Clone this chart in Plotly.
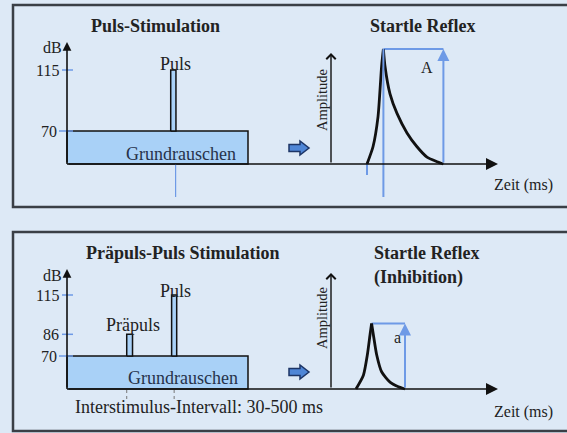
import plotly.graph_objects as go

W, H = 567, 433

# ---------------- data ----------------
DB_TICKS_TOP = [70, 115]
DB_TICKS_BOTTOM = [70, 86, 115]
NOISE_DB = 70
PULSE_DB = 115
PREPULSE_DB = 86
BASE_DB = 45.7          # level at which the time axis crosses the dB axis

NOISE_T = [0, 100]      # schematic stimulus time
PULSE_T_TOP = [57.3, 60.2]
PULSE_T_BOTTOM = [57.8, 60.6]
PREPULSE_T = [33.0, 36.2]

# startle response curves (time in ms, amplitude in % of A)
RISE_T_TOP = [18, 21, 23.5, 25.3, 26.2]
RISE_A_TOP = [0, 15, 41, 85, 100]
DECAY_T_TOP = [26.2, 27, 29.5, 33, 38, 43, 48, 53, 56.2]
DECAY_A_TOP = [100, 85, 61, 44, 27, 15, 6, 2, 0]

RISE_T_BOTTOM = [12.5, 16.2, 18.2, 19.5, 20.3]
RISE_A_BOTTOM = [0, 12, 30, 47, 57]
DECAY_T_BOTTOM = [20.3, 21.2, 22.8, 25.3, 29.5, 33.7, 37]
DECAY_A_BOTTOM = [57, 47, 30, 15, 6, 2, 0]

A_PEAK, A_T_PEAK, A_T_END, A_T_ONSET = 100, 26.2, 56.2, 18
a_PEAK, a_T_PEAK, a_T_END = 57, 20.3, 37

# ---------------- style ----------------
BG = "#dde9f6"
BORDER = "#3a3f46"
BLUE = "#6e9ae6"
BOXFILL = "#a9d1f7"
TXT = "#222222"
SERIF = "Liberation Serif, Times New Roman, serif"


def fx(px):
    return px / W


def fy(py):
    return 1 - py / H


def haxis(px0, px1, px_ref, val_ref, ppu, anchor):
    v = lambda p: val_ref + (p - px_ref) / ppu
    return dict(domain=[fx(px0), fx(px1)], range=[v(px0), v(px1)], visible=False,
                anchor=anchor, fixedrange=True)


def vaxis(py_bot, py_top, py_ref, val_ref, ppu, anchor):
    v = lambda p: val_ref + (py_ref - p) / ppu
    return dict(domain=[fy(py_bot), fy(py_top)], range=[v(py_bot), v(py_top)], visible=False,
                anchor=anchor, fixedrange=True)


DB_PPU = 61 / 45.0      # px per dB
AMP_PPU = 1.15          # px per % amplitude
T_PPU = 1.81            # px per stimulus time unit
MS_PPU = 2.0            # px per ms

fig = go.Figure()


def box_trace(t0, t1, lo, hi, xa, ya):
    fig.add_trace(go.Scatter(x=[t0, t0, t1, t1, t0], y=[lo, hi, hi, lo, lo], mode="lines",
                             fill="toself", fillcolor=BOXFILL,
                             line=dict(color="#111111", width=1.5),
                             xaxis=xa, yaxis=ya, hoverinfo="skip", showlegend=False))


def curve(ts, vs, xa, ya):
    fig.add_trace(go.Scatter(x=ts, y=vs, mode="lines",
                             line=dict(color="#111111", width=2.8, shape="spline", smoothing=0.6),
                             xaxis=xa, yaxis=ya, hoverinfo="skip", showlegend=False))


def blue_line(ts, vs, xa, ya, width=2):
    fig.add_trace(go.Scatter(x=ts, y=vs, mode="lines", line=dict(color=BLUE, width=width),
                             xaxis=xa, yaxis=ya, hoverinfo="skip", showlegend=False))


# ---- panel 1 stimulus (x / y) ----
box_trace(NOISE_T[0], NOISE_T[1], BASE_DB, NOISE_DB, "x", "y")
box_trace(PULSE_T_TOP[0], PULSE_T_TOP[1], NOISE_DB, PULSE_DB, "x", "y")
# ---- panel 2 stimulus (x3 / y3) ----
box_trace(NOISE_T[0], NOISE_T[1], BASE_DB, NOISE_DB, "x3", "y3")
box_trace(PREPULSE_T[0], PREPULSE_T[1], NOISE_DB, PREPULSE_DB, "x3", "y3")
box_trace(PULSE_T_BOTTOM[0], PULSE_T_BOTTOM[1], NOISE_DB, PULSE_DB, "x3", "y3")

# ---- reflex measurement lines ----
blue_line([A_T_PEAK, A_T_END], [A_PEAK, A_PEAK], "x2", "y2")
blue_line([a_T_PEAK, a_T_END], [a_PEAK, a_PEAK], "x4", "y4")

# ---- reflex curves ----
curve(RISE_T_TOP, RISE_A_TOP, "x2", "y2")
curve(DECAY_T_TOP, DECAY_A_TOP, "x2", "y2")
curve(RISE_T_BOTTOM, RISE_A_BOTTOM, "x4", "y4")
curve(DECAY_T_BOTTOM, DECAY_A_BOTTOM, "x4", "y4")

shapes = []
annotations = []

# panel frames
for (t, b) in [(5, 207), (232, 431)]:
    shapes.append(dict(type="rect", xref="paper", yref="paper", x0=fx(13), x1=fx(590),
                       y0=fy(b), y1=fy(t), line=dict(color=BORDER, width=2.5),
                       fillcolor=BG, layer="below"))

# dB ticks
for ticks, ya in [(DB_TICKS_TOP, "y"), (DB_TICKS_BOTTOM, "y3")]:
    for v in ticks:
        x0 = 59 if v == NOISE_DB else 62
        shapes.append(dict(type="line", xref="paper", yref=ya, x0=fx(x0), x1=fx(73),
                           y0=v, y1=v, line=dict(color=BLUE, width=1.5)))
        annotations.append(dict(xref="paper", yref=ya, x=fx(61 if v != NOISE_DB else 59), y=v,
                                text=str(v), showarrow=False, xanchor="right", yanchor="middle",
                                font=dict(family=SERIF, size=16, color=TXT)))

# blue vertical line beneath pulse in panel 1
shapes.append(dict(type="line", xref="x", yref="paper", x0=PULSE_T_TOP[1] - 0.2,
                   x1=PULSE_T_TOP[1] - 0.2, y0=fy(164), y1=fy(197),
                   line=dict(color=BLUE, width=1.2)))
# blue markers on reflex panel 1
shapes.append(dict(type="line", xref="x2", yref="paper", x0=A_T_PEAK, x1=A_T_PEAK,
                   y0=fy(197), y1=fy(49), line=dict(color=BLUE, width=2)))
shapes.append(dict(type="line", xref="x2", yref="paper", x0=A_T_ONSET, x1=A_T_ONSET,
                   y0=fy(164), y1=fy(175), line=dict(color=BLUE, width=2)))
# dotted interstimulus markers in panel 2
for tv in [PREPULSE_T[0], (PULSE_T_BOTTOM[0] + PULSE_T_BOTTOM[1]) / 2]:
    shapes.append(dict(type="line", xref="x3", yref="paper", x0=tv, x1=tv,
                       y0=fy(390), y1=fy(401), line=dict(color="#777777", width=1, dash="dot")))


# block arrows
def block_arrow(cy):
    pts = [(289, cy - 3.5), (300, cy - 3.5), (300, cy - 7), (309, cy),
           (300, cy + 7), (300, cy + 3.5), (289, cy + 3.5)]
    p = "M " + " L ".join(f"{fx(x):.5f},{fy(y):.5f}" for x, y in pts) + " Z"
    return dict(type="path", xref="paper", yref="paper", path=p,
                fillcolor="#4f86d6", line=dict(color="#1d3566", width=1.5))


shapes.append(block_arrow(148))
shapes.append(block_arrow(372))


def arrow(hx, hy, dx, dy, head=2, size=1.1, width=1.5, color="#111111"):
    annotations.append(dict(xref="paper", yref="paper", x=fx(hx), y=fy(hy), ax=dx, ay=dy,
                            showarrow=True, arrowhead=head, arrowsize=size, arrowwidth=width,
                            arrowcolor=color, text=""))


# axes (panel 1)
arrow(67, 42, 0, 122, head=2, size=1.1, width=1.6)
arrow(498, 164, -431, 0, head=2, size=1.5, width=1.6)
arrow(331, 53, 0, 111, head=4, size=1.3, width=1.4)
# axes (panel 2)
arrow(67, 269, 0, 120, head=2, size=1.1, width=1.6)
arrow(498, 389, -431, 0, head=2, size=1.5, width=1.6)
arrow(331, 273, 0, 116, head=4, size=1.3, width=1.4)

# blue amplitude arrows (data-driven)
for xa, ya, t_end, pk in [("x2", "y2", A_T_END, A_PEAK), ("x4", "y4", a_T_END, a_PEAK)]:
    annotations.append(dict(xref=xa, yref=ya, x=t_end, y=pk, axref=xa, ayref=ya, ax=t_end, ay=0,
                            showarrow=True, arrowhead=2, arrowsize=1.2, arrowwidth=2,
                            arrowcolor=BLUE, text=""))


def label(text, px, py, size=18, anchor="center", bold=False, color=TXT, angle=0):
    if bold:
        text = "<b>" + text + "</b>"
    annotations.append(dict(xref="paper", yref="paper", x=fx(px), y=fy(py), text=text,
                            showarrow=False, xanchor=anchor, yanchor="middle", textangle=angle,
                            font=dict(family=SERIF, size=size, color=color)))


# panel 1 text
label("Puls-Stimulation", 155, 26, bold=True)
label("Startle Reflex", 422, 26, bold=True)
label("dB", 52, 48, size=16)
label("Puls", 175, 64)
label("Grundrauschen", 181, 154, color="#26324a")
label("A", 427, 67, size=16)
label("Amplitude", 322, 100, size=14.5, angle=-90)
label("Zeit (ms)", 523, 185, size=16)

# panel 2 text
label("Präpuls-Puls Stimulation", 183, 253, bold=True)
label("Startle Reflex", 372, 253, bold=True, anchor="left")
label("(Inhibition)", 372, 277, bold=True, anchor="left")
label("dB", 52, 275, size=16)
label("Präpuls", 133, 325)
label("Puls", 175, 291)
label("Grundrauschen", 183, 378, color="#26324a")
label("a", 397, 337, size=16)
label("Amplitude", 322, 318, size=14.5, angle=-90)
label("Zeit (ms)", 523, 412, size=16)
label("Interstimulus-Intervall: 30-500 ms", 199, 407)

fig.update_layout(
    width=W, height=H, margin=dict(l=0, r=0, t=0, b=0),
    paper_bgcolor=BG, plot_bgcolor="rgba(0,0,0,0)", showlegend=False,
    xaxis=haxis(40, 262, 67, 0, T_PPU, "y"),
    yaxis=vaxis(200, 38, 131, NOISE_DB, DB_PPU, "x"),
    xaxis2=haxis(331, 505, 331, 0, MS_PPU, "y2"),
    yaxis2=vaxis(200, 38, 164, 0, AMP_PPU, "x2"),
    xaxis3=haxis(40, 262, 67, 0, T_PPU, "y3"),
    yaxis3=vaxis(400, 262, 356, NOISE_DB, DB_PPU, "x3"),
    xaxis4=haxis(331, 505, 331, 0, MS_PPU, "y4"),
    yaxis4=vaxis(400, 262, 389, 0, AMP_PPU, "x4"),
    shapes=shapes, annotations=annotations,
)

fig.write_html("out.html", config={"displayModeBar": False},
               post_script="document.body.style.margin='0';document.body.style.background='#dde9f6';")
